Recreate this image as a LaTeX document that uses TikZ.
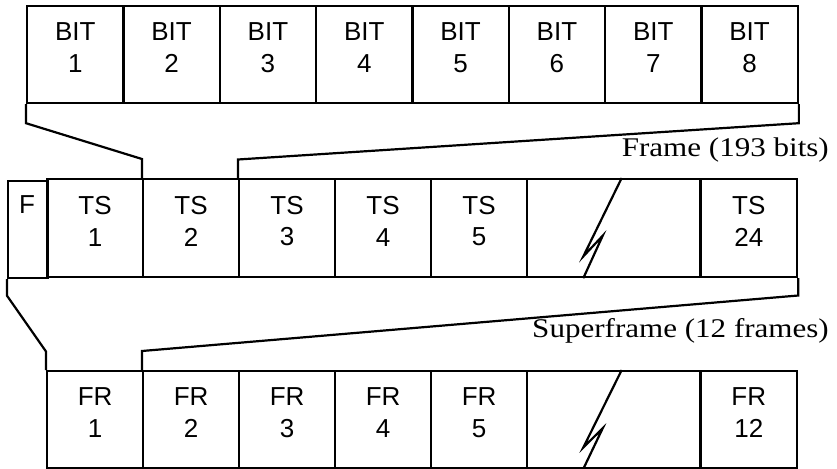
\documentclass[tikz,border=0pt]{standalone}
\usepackage{fontspec}
\setmainfont{Liberation Serif}
\newfontfamily\arialfont{Liberation Sans}
\newfontfamily\capfont[FakeStretch=1.15]{Liberation Serif}
\usetikzlibrary{calc}
\begin{document}
\begin{tikzpicture}[x=1pt,y=-1pt,
  cell/.style={draw, line width=2.2pt, inner sep=0pt, anchor=north west},
  lbl/.style={font=\arialfont\fontsize{26}{31.7}\selectfont, align=center, inner sep=0pt},
  captxt/.style={font=\capfont\fontsize{27}{32}\selectfont, inner sep=0pt, anchor=base east},
  conn/.style={line width=2.2pt}
]
\useasboundingbox (0,0) rectangle (837,468);

% top row: bits
\foreach \i in {1,...,8} {
  \node[cell, minimum width=96.33pt, minimum height=97pt] (b\i) at ({26+(\i-1)*96.33}, 5) {};
  \node[lbl] (tb\i) at ($(b\i.center)+(0,-7)$) {BIT\\\i};
}

% middle row: frame
\node[cell, minimum width=40pt, minimum height=97pt] (f) at (7,180) {};
\node[lbl, anchor=base] (tf) at (27,213.5) {F};
\foreach \i/\x in {1/46,2/142,3/238,4/334,5/430} {
  \node[cell, minimum width=96pt, minimum height=98pt] (ts\i) at (\x,178) {};
  \node[lbl] (tts\i) at ($(ts\i.center)+(0,-7)$) {TS\\\i};
}
\node[cell, minimum width=173.3pt, minimum height=98pt] (brk) at (526,178) {};
\node[cell, minimum width=96.7pt, minimum height=98pt] (ts24) at (699.3,178) {};
\node[lbl] (tts24) at ($(ts24.center)+(0,-7)$) {TS\\24};

% bottom row: superframe
\foreach \i/\x in {1/46,2/142,3/238,4/334,5/430} {
  \node[cell, minimum width=96pt, minimum height=96.7pt] (fr\i) at (\x,370) {};
  \node[lbl] (tfr\i) at ($(fr\i.center)+(0,-7)$) {FR\\\i};
}
\node[cell, minimum width=173.3pt, minimum height=96.7pt] (brk2) at (526,370) {};
\node[cell, minimum width=96.7pt, minimum height=96.7pt] (fr12) at (699.3,370) {};
\node[lbl] (tfr12) at ($(fr12.center)+(0,-7)$) {FR\\12};

% break symbols
\draw[conn] ($(brk.north west)+(95.7,0)$) -- ($(brk.north west)+(57.3,78.4)$) -- ($(brk.north west)+(76.7,57.7)$) -- ($(brk.south west)+(57.3,0)$);
\draw[conn] ($(brk2.north west)+(95.7,0)$) -- ($(brk2.north west)+(57.3,77.5)$) -- ($(brk2.north west)+(76.7,58.3)$) -- ($(brk2.south west)+(57.3,0)$);

% expansion connectors
\draw[conn] (b1.south west) -- ++(0,19) -- ($(ts2.north west)+(0,-19)$) -- (ts2.north west);
\draw[conn] (b8.south east) -- ++(0,19) -- ($(ts3.north west)+(0,-18.5)$) -- (ts3.north west);
\draw[conn] (f.south west) -- ++(0,16.5) -- ($(fr1.north west)+(0,-18.5)$) -- (fr1.north west);
\draw[conn] (ts24.south east) -- ++(0,17.3) -- ($(fr2.north west)+(0,-19)$) -- (fr2.north west);

% captions
\node[captxt] (cframe) at (829,156) {Frame (193 bits)};
\node[captxt] (csuper) at (829,337.3) {Superframe (12 frames)};
\end{tikzpicture}
\end{document}
